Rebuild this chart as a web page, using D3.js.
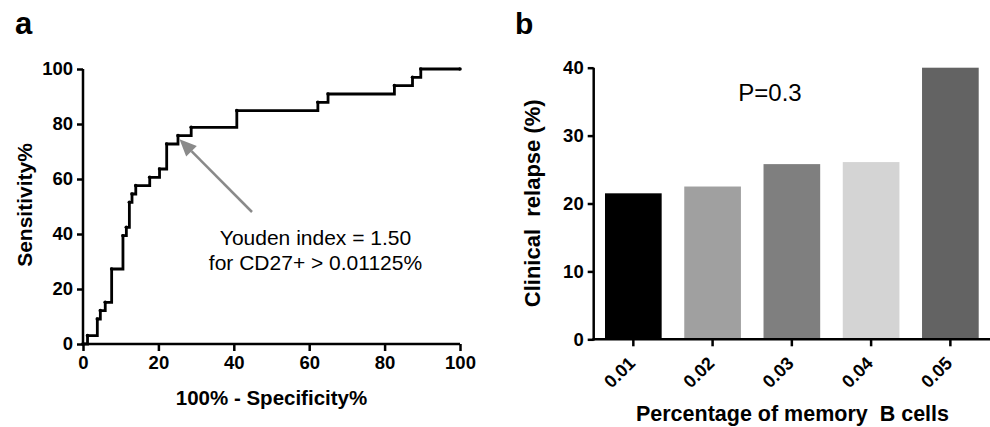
<!DOCTYPE html>
<html>
<head>
<meta charset="utf-8">
<script src="https://cdn.jsdelivr.net/npm/d3@7"></script>
<style>
  html, body { margin: 0; padding: 0; background: #fff; }
  svg { display: block; }
  text { font-family: "Liberation Sans", Arial, Helvetica, sans-serif; fill: #000; }
</style>
</head>
<body>
<svg id="chart" width="990" height="427"></svg>
<script>
// ---------- Panel a: ROC curve data ----------
const rocFpr = [0, 1.2, 3.8, 4.6, 5.9, 7.6, 10.6, 11.5, 12.3, 13.0, 14.0, 17.7, 20.3, 22.2, 25.2, 28.7, 40.8, 62.3, 65.0, 82.6, 87.4, 89.6, 100];
const rocTpr = [0, 3.03, 9.09, 12.12, 15.15, 27.27, 39.39, 42.42, 51.52, 54.55, 57.58, 60.61, 63.64, 72.73, 75.76, 78.79, 84.85, 87.88, 90.91, 93.94, 96.97, 100, 100];
const rocTicks = [0, 20, 40, 60, 80, 100];
const youden = { fpr: 25.2, tpr: 75.76 };
const annotationLines = ["Youden index = 1.50", "for CD27+ > 0.01125%"];

// ---------- Panel b: bar chart data ----------
const barCategories = ["0.01", "0.02", "0.03", "0.04", "0.05"];
const barValues = [21.5, 22.5, 25.8, 26.1, 40.0];
const barTicks = [0, 10, 20, 30, 40];
const pValueLabel = "P=0.3";

// styles
const barColors = ["#000000", "#a0a0a0", "#7f7f7f", "#d4d4d4", "#636363"];

const svg = d3.select("#chart");
const FONT = '"Liberation Sans", Arial, Helvetica, sans-serif';

function styleAxis(g) {
  g.selectAll("path.domain").attr("stroke", "#000").attr("stroke-width", 2.5);
  g.selectAll(".tick line").attr("stroke", "#000").attr("stroke-width", 2.5);
  g.selectAll(".tick text").attr("font-family", FONT).attr("font-weight", "bold")
    .attr("font-size", 18.5).attr("fill", "#000");
}

// ================= Panel a =================
const xA = d3.scaleLinear().domain([0, 100]).range([83, 460]);
const yA = d3.scaleLinear().domain([0, 100]).range([344, 69]);

const gA = svg.append("g");

gA.append("text").attr("x", 15).attr("y", 34).attr("font-size", 31)
  .attr("font-weight", "bold").text("a");

// x axis
const axA = gA.append("g").attr("transform", `translate(0,${yA(0)})`)
  .call(d3.axisBottom(xA).tickValues(rocTicks).tickSize(7).tickSizeOuter(0).tickPadding(5));
styleAxis(axA);
axA.select("path.domain").attr("d", `M${xA(0) - 1.25},0H${xA(100)}`);
axA.selectAll(".tick text").attr("dy", "0.71em");

// y axis
const ayA = gA.append("g").attr("transform", `translate(${xA(0)},0)`)
  .call(d3.axisLeft(yA).tickValues(rocTicks).tickSize(6).tickSizeOuter(0).tickPadding(4));
styleAxis(ayA);
ayA.select("path.domain").attr("d", `M0,${yA(0) + 1.25}V${yA(100)}`);

// ROC step line
const rocData = rocFpr.map((f, i) => ({ f, t: rocTpr[i] }));
const rocLine = d3.line().x(d => xA(d.f)).y(d => yA(d.t)).curve(d3.curveStepAfter);
gA.append("path").datum(rocData).attr("d", rocLine)
  .attr("fill", "none").attr("stroke", "#000").attr("stroke-width", 2.8)
  .attr("stroke-linejoin", "miter");
gA.append("g").selectAll("circle").data(rocData).join("circle")
  .attr("cx", d => xA(d.f)).attr("cy", d => yA(d.t)).attr("r", 1.8).attr("fill", "#000");

// arrow
const tipX = xA(youden.fpr) + 1.5, tipY = yA(youden.tpr) + 3.5;
const tailX = 252, tailY = 212;
const ang = Math.atan2(tipY - tailY, tipX - tailX);
const headLen = 17, headW = 7.5;
const baseX = tipX - headLen * Math.cos(ang), baseY = tipY - headLen * Math.sin(ang);
gA.append("line").attr("x1", tailX).attr("y1", tailY).attr("x2", baseX).attr("y2", baseY)
  .attr("stroke", "#8a8a8a").attr("stroke-width", 2.5);
gA.append("path")
  .attr("d", `M${tipX},${tipY}L${baseX + headW * Math.sin(ang)},${baseY - headW * Math.cos(ang)}L${baseX - headW * Math.sin(ang)},${baseY + headW * Math.cos(ang)}Z`)
  .attr("fill", "#8a8a8a");

// annotation
gA.append("g").selectAll("text").data(annotationLines).join("text")
  .attr("x", 315.5).attr("y", (d, i) => 244.5 + i * 25.5)
  .attr("text-anchor", "middle").attr("font-size", 21).attr("fill", "#111")
  .text(d => d);

// axis titles
gA.append("text").attr("x", 271.5).attr("y", 405).attr("text-anchor", "middle")
  .attr("font-size", 20.5).attr("font-weight", "bold").text("100% - Specificity%");
gA.append("text").attr("transform", "translate(31.5,205) rotate(-90)")
  .attr("text-anchor", "middle").attr("font-size", 21).attr("font-weight", "bold")
  .text("Sensitivity%");

// ================= Panel b =================
const xB = d3.scaleBand().domain(barCategories).range([593.7, 990])
  .paddingInner(0.285).paddingOuter(0.1425);
const yB = d3.scaleLinear().domain([0, 40]).range([339.3, 67.7]);

const gB = svg.append("g");
gB.append("text").attr("x", 515).attr("y", 34).attr("font-size", 30)
  .attr("font-weight", "bold").text("b");

// bars
gB.append("g").selectAll("rect").data(barValues).join("rect")
  .attr("x", (d, i) => xB(barCategories[i]))
  .attr("width", xB.bandwidth())
  .attr("y", d => yB(d))
  .attr("height", d => yB(0) - yB(d))
  .attr("fill", (d, i) => barColors[i]);

// x axis
const axB = gB.append("g").attr("transform", `translate(0,${yB(0)})`)
  .call(d3.axisBottom(xB).tickSize(7).tickSizeOuter(0));
styleAxis(axB);
axB.select("path.domain").attr("d", `M${593.7 - 1.25},0H990`);
axB.selectAll(".tick text")
  .attr("text-anchor", "end").attr("font-size", 18)
  .attr("x", 0).attr("y", 0).attr("dy", 0)
  .attr("transform", "translate(3,25) rotate(-45)");

// y axis
const ayB = gB.append("g").attr("transform", `translate(${593.7},0)`)
  .call(d3.axisLeft(yB).tickValues(barTicks).tickSize(6).tickSizeOuter(0).tickPadding(4));
styleAxis(ayB);
ayB.select("path.domain").attr("d", `M0,${yB(0) + 1.25}V${yB(40)}`);

// P value
gB.append("text").attr("x", 770).attr("y", 100.5).attr("text-anchor", "middle")
  .attr("font-size", 24).attr("fill", "#111").text(pValueLabel);

// axis titles
gB.append("text").attr("x", 792.5).attr("y", 421).attr("text-anchor", "middle")
  .attr("font-size", 21.5).attr("font-weight", "bold")
  .style("white-space", "pre").text("Percentage of memory  B cells");
gB.append("text").attr("transform", "translate(540,203.3) rotate(-90)")
  .attr("text-anchor", "middle").attr("font-size", 22).attr("font-weight", "bold")
  .style("white-space", "pre").text("Clinical  relapse (%)");
</script>
</body>
</html>
